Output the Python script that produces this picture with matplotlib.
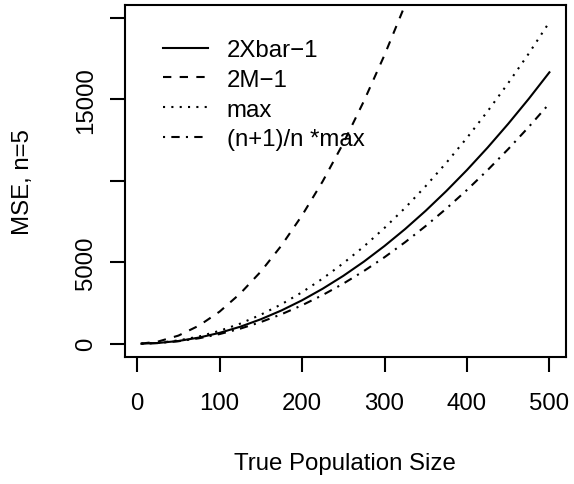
import matplotlib
matplotlib.use('Agg')
import matplotlib.pyplot as plt

plt.rcParams['font.family'] = ['Liberation Sans', 'DejaVu Sans']

# true population size and MSE of each estimator (n = 5)
pop_size = [5, 25, 50, 75, 100, 125, 150, 175, 200, 225, 250,
            275, 300, 325, 350, 375, 400, 425, 450, 475, 500]
mse_xbar = [0, 40, 165, 375, 665, 1040, 1500, 2040, 2665, 3375, 4165,
            5040, 6000, 7040, 8165, 9375, 10665, 12040, 13500, 15040, 16665]
mse_median = [5, 125, 495, 1110, 1970, 3080, 4430, 6030, 7880, 9970, 12310,
              14900, 17730, 20810, 24130, 27700, 31520, 35580, 39890, 44450, 49250]
mse_max = [0, 50, 200, 440, 790, 1230, 1780, 2420, 3160, 4000, 4940,
           5970, 7110, 8340, 9680, 11110, 12640, 14270, 16000, 17820, 19750]
mse_max_adj = [0, 37, 148, 332, 590, 922, 1328, 1807, 2360, 2987, 3688,
               4462, 5310, 6232, 7228, 8297, 9440, 10657, 11948, 13312, 14750]

x_ticks = [0, 100, 200, 300, 400, 500]
y_ticks = [0, 5000, 10000, 15000, 20000]
y_tick_labels = ['0', '5000', '', '15000', '']

fs = 17.3
lw = 1.5

fig = plt.figure(figsize=(5.74, 4.85), dpi=100)
ax = fig.add_axes([0.2178, 0.2625, 0.7678, 0.7252])

ax.plot(pop_size, mse_xbar, color='k', lw=lw, label='2Xbar\u22121')
ax.plot(pop_size, mse_median, color='k', lw=lw, dashes=(4, 4), label='2M\u22121')
ax.plot(pop_size, mse_max, color='k', lw=lw, dashes=(1, 3), label='max')
ax.plot(pop_size, mse_max_adj, color='k', lw=lw, dashes=(1, 3, 4, 3), label='(n+1)/n *max')

ax.set_xlim(-14.8, 519.8)
ax.set_ylim(-800, 20800)
ax.set_xticks(x_ticks)
ax.set_xticklabels([str(t) for t in x_ticks])
ax.set_yticks(y_ticks)
ax.set_yticklabels(y_tick_labels, rotation=90, va='center')
ax.tick_params(length=10.8, width=lw, labelsize=fs)
ax.tick_params(axis='x', pad=14.3)
ax.tick_params(axis='y', pad=9.5)
for s in ax.spines.values():
    s.set_linewidth(lw)

ax.set_xlabel('True Population Size', fontsize=fs)
ax.xaxis.set_label_coords(0.5, -0.271)
ax.set_ylabel('MSE, n=5', fontsize=fs)
ax.yaxis.set_label_coords(-0.2065, 0.5)

ax.legend(loc='upper left', bbox_to_anchor=(0.0862, 0.9033), frameon=False,
          borderpad=0, borderaxespad=0, handlelength=1.875, handletextpad=0.77,
          labelspacing=0.325, fontsize=fs)

fig.savefig('out.png', dpi=100)
